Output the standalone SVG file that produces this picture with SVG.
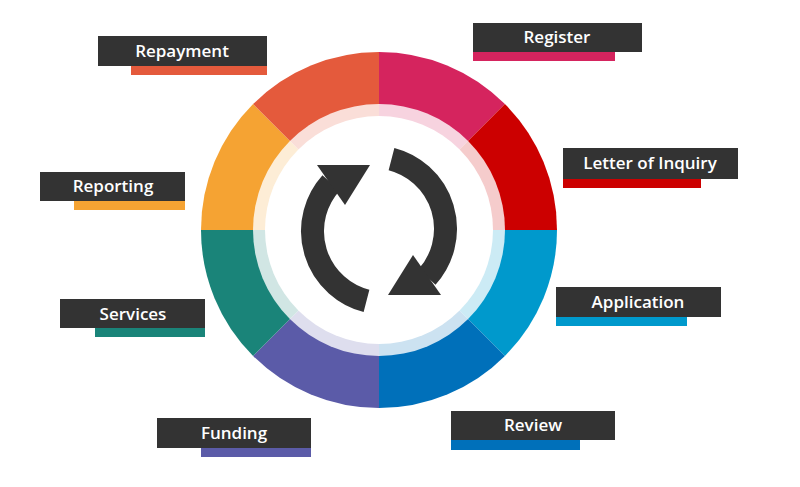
<svg xmlns="http://www.w3.org/2000/svg" width="800" height="487" viewBox="0 0 800 487">
<style>
.box{fill:#333333}
.t{fill:#fff;font-family:"Open Sans","DejaVu Sans",sans-serif;font-weight:600;font-size:17px;text-anchor:middle}
.arc{fill:none;stroke:#333333;stroke-width:23}
</style>
<rect width="800" height="487" fill="#fff"/>
<g id="wheel">
<path d="M379,230 L379,52 A178,178 0 0,1 504.9,104.1 Z" fill="#D5245E"/>
<path d="M379,230 L504.9,104.1 A178,178 0 0,1 557,230 Z" fill="#CC0000"/>
<path d="M379,230 L557,230 A178,178 0 0,1 504.9,355.9 Z" fill="#0099CC"/>
<path d="M379,230 L504.9,355.9 A178,178 0 0,1 379,408 Z" fill="#0070BA"/>
<path d="M379,230 L379,408 A178,178 0 0,1 253.1,355.9 Z" fill="#5B5BA8"/>
<path d="M379,230 L253.1,355.9 A178,178 0 0,1 201,230 Z" fill="#1A8479"/>
<path d="M379,230 L201,230 A178,178 0 0,1 253.1,104.1 Z" fill="#F5A333"/>
<path d="M379,230 L253.1,104.1 A178,178 0 0,1 379,52 Z" fill="#E45A3C"/>
<circle cx="379" cy="230" r="126" fill="#fff" opacity="0.8"/>
<circle cx="379" cy="230" r="114" fill="#fff"/>
</g>
<g id="cycle-icon">
<path class="arc" d="M366.5,300.9 A72,72 0 0,1 331,183"/>
<polygon points="317,165 370,165 345,205" fill="#333333"/>
<path class="arc" d="M391.5,159.1 A72,72 0 0,1 427,277"/>
<polygon points="441,295 388,295 413,255" fill="#333333"/>
</g>
<g id="register"><rect class="box" x="473" y="23" width="169" height="29"/><rect x="473" y="52" width="142" height="9" fill="#D5245E"/><text class="t" x="557" y="43">Register</text></g>
<g id="letter"><rect class="box" x="563" y="148" width="175" height="31"/><rect x="563" y="179" width="138" height="9" fill="#CC0000"/><text class="t" x="650" y="169">Letter of Inquiry</text></g>
<g id="application"><rect class="box" x="556" y="287" width="165" height="30"/><rect x="556" y="317" width="131" height="9" fill="#0099CC"/><text class="t" x="638" y="308">Application</text></g>
<g id="review"><rect class="box" x="451" y="411" width="164" height="29"/><rect x="451" y="440" width="129" height="10" fill="#0070BA"/><text class="t" x="533" y="431">Review</text></g>
<g id="funding"><rect class="box" x="157" y="418" width="154" height="30"/><rect x="201" y="448" width="110" height="9" fill="#5B5BA8"/><text class="t" x="234" y="439">Funding</text></g>
<g id="services"><rect class="box" x="60" y="299" width="145" height="29"/><rect x="95" y="328" width="110" height="9" fill="#1A8479"/><text class="t" x="133" y="320">Services</text></g>
<g id="reporting"><rect class="box" x="40" y="172" width="145" height="29"/><rect x="74" y="201" width="111" height="9" fill="#F5A333"/><text class="t" x="113" y="192">Reporting</text></g>
<g id="repayment"><rect class="box" x="98" y="36" width="169" height="30"/><rect x="131" y="66" width="136" height="9" fill="#E45A3C"/><text class="t" x="182" y="57">Repayment</text></g>
</svg>
